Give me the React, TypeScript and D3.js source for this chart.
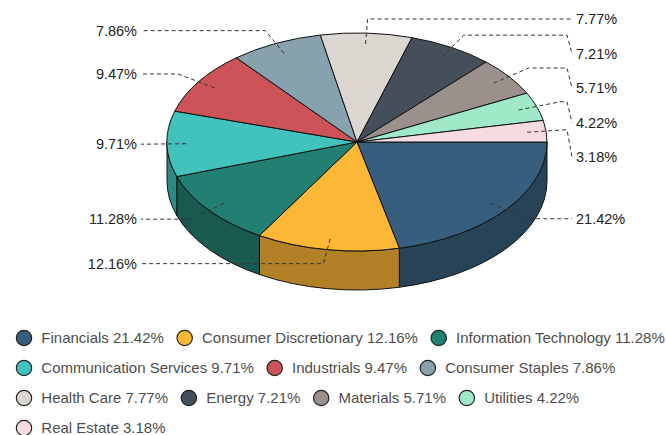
import React, { useEffect, useRef } from 'react'
import * as d3 from 'd3'

const sectors = [
  'Financials', 'Consumer Discretionary', 'Information Technology',
  'Communication Services', 'Industrials', 'Consumer Staples',
  'Health Care', 'Energy', 'Materials', 'Utilities', 'Real Estate'
]
const weights = [21.42, 12.16, 11.28, 9.71, 9.47, 7.86, 7.77, 7.21, 5.71, 4.22, 3.18]
const palette = [
  '#375f7d', '#fdb737', '#228072', '#41c2bd', '#cc5357', '#88a1ae',
  '#dcd6d1', '#454f59', '#9a918d', '#a0e9c8', '#f7dcdf'
]

interface Slice { name: string; value: number; color: string }

export default function App() {
  const svgRef = useRef<SVGSVGElement>(null)

  useEffect(() => {
    if (!svgRef.current) return
    const width = 666
    const cx = 357
    const cy = 142
    const rx = 190
    const ry = 109
    const depth = 39

    const data: Slice[] = sectors.map((name, i) => ({ name, value: weights[i], color: palette[i] }))
    const fmt = (v: number) => v.toFixed(2) + '%'

    const svg = d3.select(svgRef.current)
    svg.selectAll('*').remove()

    const pie = d3.pie<Slice>()
      .sort(null)
      .value(d => d.value)
      .startAngle(Math.PI / 2)
      .endAngle(Math.PI / 2 + 2 * Math.PI)
    const arcs = pie(data)

    // point on the ellipse for a d3 angle (0 = 12 o'clock, clockwise)
    const pt = (a: number, f = 1, dy = 0): [number, number] =>
      [cx + f * rx * Math.sin(a), cy - f * ry * Math.cos(a) + dy]

    // sides: only the part between 3 o'clock and 9 o'clock faces us
    const sides = svg.append('g')
    arcs.forEach(d => {
      const a0 = Math.max(d.startAngle, Math.PI / 2)
      const a1 = Math.min(d.endAngle, 1.5 * Math.PI)
      if (a1 <= a0) return
      const p0 = pt(a0), p1 = pt(a1)
      const q0 = pt(a0, 1, depth), q1 = pt(a1, 1, depth)
      const path = `M${p0}A${rx},${ry} 0 0 1 ${p1}L${q1}A${rx},${ry} 0 0 0 ${q0}Z`
      sides.append('path')
        .attr('d', path)
        .attr('fill', d3.color(d.data.color)!.darker(1).toString())
        .attr('stroke', '#111')
        .attr('stroke-width', 1)
    })

    const arc = d3.arc<d3.PieArcDatum<Slice>>().innerRadius(0).outerRadius(rx)
    svg.append('g')
      .attr('transform', `translate(${cx},${cy}) scale(1,${ry / rx})`)
      .selectAll('path')
      .data(arcs)
      .join('path')
      .attr('d', arc)
      .attr('fill', d => d.data.color)
      .attr('stroke', '#111')
      .attr('stroke-width', 1)
      .attr('vector-effect', 'non-scaling-stroke')

    // labels
    const labels = arcs.map(d => {
      const mid = (d.startAngle + d.endAngle) / 2
      const inner = pt(mid, 0.9)
      const bend = pt(mid, 1.13)
      return { d, inner, bend, right: Math.sin(mid) >= 0, y: bend[1] }
    })
    const gap = 34.5
    ;[true, false].forEach(side => {
      const group = labels.filter(l => l.right === side).sort((a, b) => a.bend[1] - b.bend[1])
      let prev = -Infinity
      group.forEach(l => {
        l.y = Math.max(l.bend[1], prev + gap)
        prev = l.y
      })
    })

    const lineG = svg.append('g')
      .attr('fill', 'none')
      .attr('stroke', '#333')
      .attr('stroke-width', 1)
      .attr('stroke-dasharray', '4,3')
    const textG = svg.append('g')
      .style('font-size', '14.5px')
      .attr('fill', '#222')

    labels.forEach(l => {
      const endX = l.right ? 567 : 145
      const bx = l.right ? Math.min(l.bend[0], endX) : Math.max(l.bend[0], endX)
      const pts: [number, number][] = [l.inner, [bx, l.bend[1]], [endX, l.bend[1]]]
      if (l.right) pts.push([572, l.y])
      else pts.push([141, l.y])
      lineG.append('path').attr('d', d3.line()(pts))
      textG.append('text')
        .attr('x', l.right ? 576 : 137)
        .attr('y', l.y)
        .attr('dy', '0.35em')
        .attr('text-anchor', l.right ? 'start' : 'end')
        .text(fmt(l.d.data.value))
    })

    // legend
    const legend = svg.append('g').style('font-size', '15px')
    let x = 16
    let row = 0
    const rowY = 338
    const rowStep = 30
    data.forEach(d => {
      const g = legend.append('g')
      g.append('circle')
        .attr('r', 7.7)
        .attr('fill', d.color)
        .attr('stroke', '#222')
        .attr('stroke-width', 1.2)
      const t = g.append('text')
        .attr('x', 17.3)
        .attr('dy', '0.35em')
        .attr('fill', '#4d4d4d')
        .text(`${d.name} ${fmt(d.value)}`)
      const w = 17.3 + (t.node() as SVGTextElement).getComputedTextLength()
      if (x + 8 + w > width + 2 && x > 16) {
        x = 16
        row += 1
      }
      g.attr('transform', `translate(${x + 8},${rowY + row * rowStep})`)
      x += 8 + w + 12.8
    })
  }, [])

  return (
    <svg
      ref={svgRef}
      width={666}
      height={435}
      style={{ position: 'absolute', left: 0, top: 0, fontFamily: "'Liberation Sans', Arial, sans-serif", background: '#fff' }}
    />
  )
}
